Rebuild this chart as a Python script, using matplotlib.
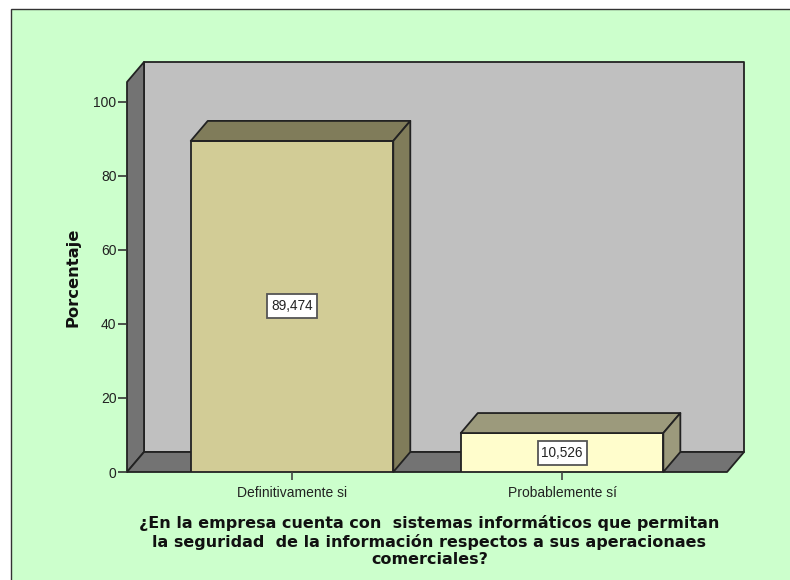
import matplotlib
matplotlib.use('Agg')
import matplotlib.pyplot as plt
from matplotlib.patches import Polygon, Rectangle

categories = ['Definitivamente si', 'Probablemente sí']
values = [89.474, 10.526]
value_labels = ['89,474', '10,526']
bar_colors = ['#D2CC96', '#FFFDCC']
side_colors = ['#807C5A', '#9C9A7C']
y_ticks = [0, 20, 40, 60, 80, 100]
question = ('¿En la empresa cuenta con  sistemas informáticos que permitan\n'
            'la seguridad  de la información respectos a sus aperacionaes\n'
            'comerciales?')

W, H = 790, 580
EDGE = '#222222'

# px per data unit on each axis, taken from the tick spacing
x_left, x_right = -0.611, 1.670
y_top = 110.8
bar_width = 0.75
dx = 17 / 270
dy = 20 / 3.7

fig = plt.figure(figsize=(W / 100, H / 100), dpi=100, facecolor='white')
fig.add_artist(Rectangle((10.5 / W, -0.01), 1.1, 1 - 9.5 / H + 0.01, transform=fig.transFigure,
                         facecolor='#CCFFCC', edgecolor='#333333', linewidth=1, zorder=-1))

ax = fig.add_axes([127 / W, (H - 472) / H, 616 / W, 410 / H])
ax.set_xlim(x_left, x_right)
ax.set_ylim(0, y_top)
ax.patch.set_visible(False)
for spine in ax.spines.values():
    spine.set_visible(False)

x0 = x_left
x1 = 1.611
top = y_top - dy


def poly(points, color, z=1):
    ax.add_patch(Polygon(points, closed=True, facecolor=color, edgecolor=EDGE,
                         linewidth=1.3, joinstyle='round', clip_on=False, zorder=z))


# back wall, side wall, floor
poly([(x0 + dx, dy), (x1 + dx, dy), (x1 + dx, top + dy), (x0 + dx, top + dy)], '#C0C0C0')
poly([(x0, 0), (x0 + dx, dy), (x0 + dx, top + dy), (x0, top)], '#737373')
poly([(x0, 0), (x1, 0), (x1 + dx, dy), (x0 + dx, dy)], '#737373')

# label box is 49x24 px
box_w = 49 / 270
box_h = 24 / 3.7

for i, v in enumerate(values):
    l = i - bar_width / 2
    r = i + bar_width / 2
    ax.bar(i, v, width=bar_width, color=bar_colors[i], edgecolor=EDGE, linewidth=1.3, zorder=3)
    poly([(l, v), (r, v), (r + dx, v + dy), (l + dx, v + dy)], side_colors[i], 3)
    poly([(r, 0), (r + dx, dy), (r + dx, v + dy), (r, v)], side_colors[i], 3)
    ax.add_patch(Rectangle((i - box_w / 2, v / 2 - box_h / 2), box_w, box_h, facecolor='white',
                           edgecolor='#555555', linewidth=1.3, zorder=4))
    ax.text(i, v / 2, value_labels[i], ha='center', va='center', fontsize=9.8,
            family='Liberation Sans', color='#222222', zorder=5)

ax.set_xticks(range(len(categories)))
ax.set_xticklabels(categories, fontsize=10, family='Liberation Sans', color='#222222')
ax.set_yticks(y_ticks)
ax.set_yticklabels([str(t) for t in y_ticks], fontsize=10, family='Liberation Sans', color='#222222')
ax.tick_params(axis='x', length=6, width=1.2, color='#444444', pad=4)
ax.tick_params(axis='y', length=6.5, width=1.2, color='#333333', pad=1)

fig.text(72.5 / W, 1 - 277 / H, 'Porcentaje', rotation=90, ha='center', va='center',
         fontsize=11.8, fontweight='bold', family='DejaVu Sans', color='#111111')
fig.text(429.5 / W, 1 - 541 / H, question, ha='center', va='center', fontsize=11.5,
         fontweight='bold', family='DejaVu Sans', color='#111111', linespacing=1.22)

fig.savefig('out.png', dpi=100, facecolor=fig.get_facecolor())
